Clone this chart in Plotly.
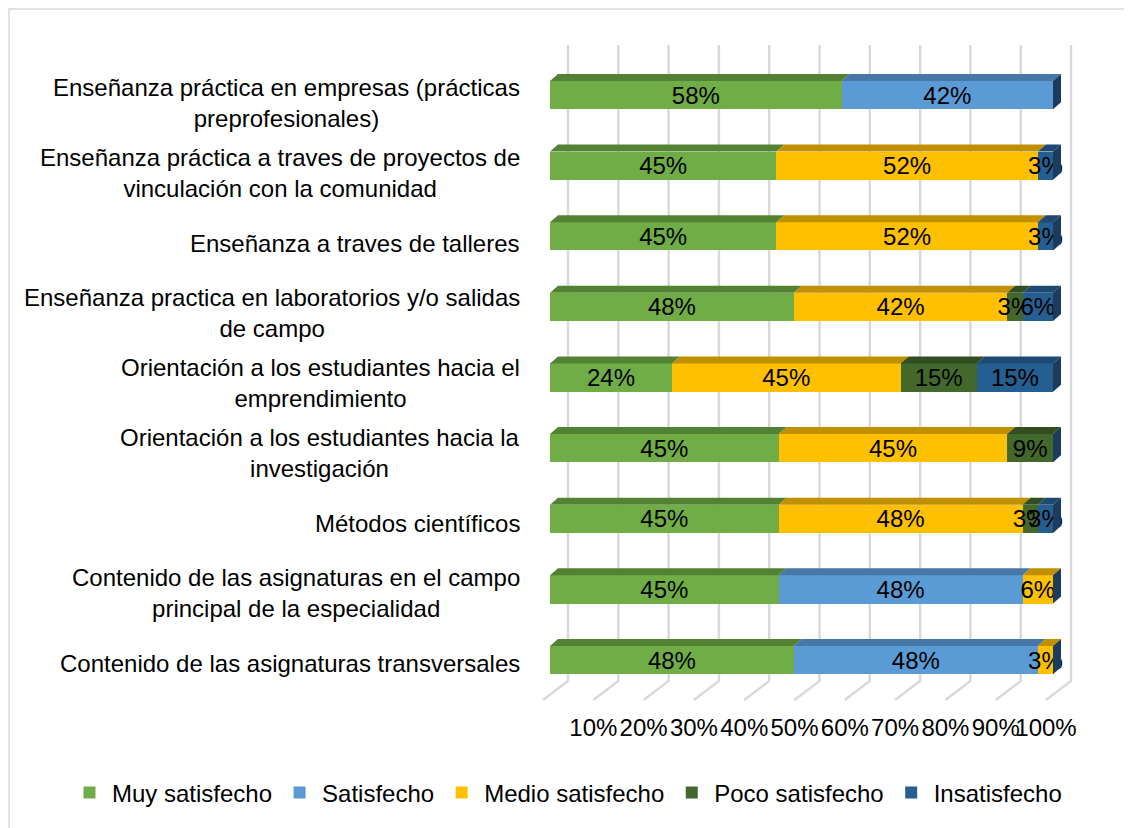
import plotly.graph_objects as go

# ---------------- data (top to bottom, as shown) ----------------
categories = [
    "Enseñanza práctica en empresas (prácticas<br>preprofesionales)",
    "Enseñanza práctica a traves de proyectos de<br>vinculación con la comunidad",
    "Enseñanza a traves de talleres",
    "Enseñanza practica en laboratorios y/o salidas<br>de campo",
    "Orientación a los estudiantes hacia el<br>emprendimiento",
    "Orientación a los estudiantes hacia la<br>investigación",
    "Métodos científicos",
    "Contenido de las asignaturas en el campo<br>principal de la especialidad",
    "Contenido de las asignaturas transversales",
]
series_names = ["Muy satisfecho", "Satisfecho", "Medio satisfecho", "Poco satisfecho", "Insatisfecho"]
muy_satisfecho = [58, 45, 45, 48, 24, 45, 45, 45, 48]
satisfecho = [42, 0, 0, 0, 0, 0, 0, 48, 48]
medio_satisfecho = [0, 52, 52, 42, 45, 45, 48, 6, 3]
poco_satisfecho = [0, 0, 0, 3, 15, 9, 3, 0, 0]
insatisfecho = [0, 3, 3, 6, 15, 0, 3, 0, 0]
tick_values = [10, 20, 30, 40, 50, 60, 70, 80, 90, 100]
tick_labels = ["10%", "20%", "30%", "40%", "50%", "60%", "70%", "80%", "90%", "100%"]

# ---------------- style ----------------
front_colors = ["#70AD47", "#5B9BD5", "#FFC000", "#43682B", "#255E91"]
top_colors = ["#548235", "#4677A6", "#C09000", "#324E20", "#1D4A72"]
side_color = "#1B3C5C"
grid_color = "#D9D9D9"
FONT = "Liberation Sans, Arial, sans-serif"
FS = 24

# page offset (browser body margin)
OFF = 8
W, H = 1132 - OFF, 828 - OFF
# geometry in reference (window) pixels
L, R, T, B = 530, 1080, 40, 705
X0_PX, PX_PER_X = 550, 5.03
ROW0_PX, ROW_PITCH = 660, 70.625
BAR_W = 0.4
DX = 8 / PX_PER_X           # depth offset, x units
DY = 7 / ROW_PITCH          # depth offset, y units
WALL_OFF = 18 / PX_PER_X
FLOOR_OFF = 7 / PX_PER_X

xr = [(L - X0_PX) / PX_PER_X, (R - X0_PX) / PX_PER_X]
yr = [(ROW0_PX - B) / ROW_PITCH, (ROW0_PX - T) / ROW_PITCH]


def px_to_paper_x(px):
    return (px - L) / (R - L)


def px_to_paper_y(py):
    return (B - py) / (B - T)


def px_to_y(py):
    return (ROW0_PX - py) / ROW_PITCH


n = len(categories)
ypos = [n - 1 - i for i in range(n)]  # top row -> highest index
all_series = [muy_satisfecho, satisfecho, medio_satisfecho, poco_satisfecho, insatisfecho]
totals = [sum(s[i] for s in all_series) for i in range(n)]

fig = go.Figure()

# front faces (bars)
for name, vals, col in zip(series_names, all_series, front_colors):
    fig.add_trace(go.Bar(
        name=name, y=ypos, x=vals, orientation="h", width=BAR_W,
        marker=dict(color=col, line=dict(width=0)),
        text=[f"{v}%" if v > 0 else "" for v in vals],
        textposition="inside", insidetextanchor="middle", textangle=0,
        constraintext="none",
        textfont=dict(family=FONT, size=FS, color="#000000"),
        hoverinfo="skip",
    ))

# top faces (3D effect) computed from normalised cumulative values
cum = [0.0] * n
for k, (vals, tcol) in enumerate(zip(all_series, top_colors)):
    xs, ys = [], []
    for i in range(n):
        v = vals[i] * 100.0 / totals[i]
        if v > 0:
            c0, c1 = cum[i], cum[i] + v
            yt = ypos[i] + BAR_W / 2
            xs += [c0, c1, c1 + DX, c0 + DX, c0, None]
            ys += [yt, yt, yt + DY, yt + DY, yt, None]
            cum[i] = c1
    fig.add_trace(go.Scatter(x=xs, y=ys, mode="lines", fill="toself",
                             fillcolor=tcol, line=dict(width=0, color=tcol),
                             hoverinfo="skip", showlegend=False))

# side faces at the end of each bar
xs, ys = [], []
for i in range(n):
    yb, yt = ypos[i] - BAR_W / 2, ypos[i] + BAR_W / 2
    xs += [100, 100 + DX, 100 + DX, 100, 100, None]
    ys += [yb, yb + DY, yt + DY, yt, yb, None]
fig.add_trace(go.Scatter(x=xs, y=ys, mode="lines", fill="toself",
                         fillcolor=side_color, line=dict(width=0, color=side_color),
                         hoverinfo="skip", showlegend=False))

# gridlines: back wall + floor (3D style)
shapes = []
y_wall_top = px_to_y(45)
y_floor_back = px_to_y(681)
y_floor_front = px_to_y(700)
for t in [0] + tick_values:
    xw = t + WALL_OFF
    xf = t - FLOOR_OFF
    shapes.append(dict(
        type="path", xref="x", yref="y", layer="below",
        path=f"M {xw},{y_wall_top} L {xw},{y_floor_back} L {xf},{y_floor_front}",
        line=dict(color=grid_color, width=2.5),
    ))
# outer chart border (left and top edges visible)
shapes.append(dict(type="rect", xref="paper", yref="paper",
                   x0=px_to_paper_x(OFF + 1), x1=px_to_paper_x(1145),
                   y0=px_to_paper_y(840), y1=px_to_paper_y(OFF + 1),
                   line=dict(color="#D9D9D9", width=1.5), layer="below"))

# category labels (centred multi-line)
annotations = []
for i, cat in enumerate(categories):
    annotations.append(dict(
        text=cat, x=px_to_paper_x(522), xref="paper", y=ypos[i], yref="y",
        xanchor="right", yanchor="middle", align="center", showarrow=False,
        yshift=-3 - 5 * ypos[i] / (n - 1),
        font=dict(family=FONT, size=FS, color="#000000"),
    ))

fig.update_layout(
    width=W, height=H,
    margin=dict(l=L - OFF, r=W - (R - OFF), t=T - OFF, b=H - (B - OFF), autoexpand=False),
    barmode="stack", barnorm="percent", bargap=0.6,
    paper_bgcolor="white", plot_bgcolor="white",
    font=dict(family=FONT, size=FS, color="#000000"),
    xaxis=dict(range=xr, showgrid=False, zeroline=False, showline=False,
               tickmode="array", tickvals=[t - FLOOR_OFF for t in tick_values],
               ticktext=tick_labels, tickangle=0, ticks="outside", ticklen=1,
               tickcolor="rgba(0,0,0,0)",
               tickfont=dict(family=FONT, size=FS, color="#000000"), fixedrange=True),
    yaxis=dict(range=yr, showgrid=False, zeroline=False, showline=False,
               showticklabels=False, fixedrange=True),
    shapes=shapes, annotations=annotations,
    legend=dict(orientation="h", x=px_to_paper_x(67), xanchor="left",
                y=px_to_paper_y(793), yanchor="middle", traceorder="normal",
                itemwidth=35,
                font=dict(family=FONT, size=FS, color="#000000"),
                bgcolor="rgba(0,0,0,0)"),
    showlegend=True,
)

fig.write_html("out.html")
